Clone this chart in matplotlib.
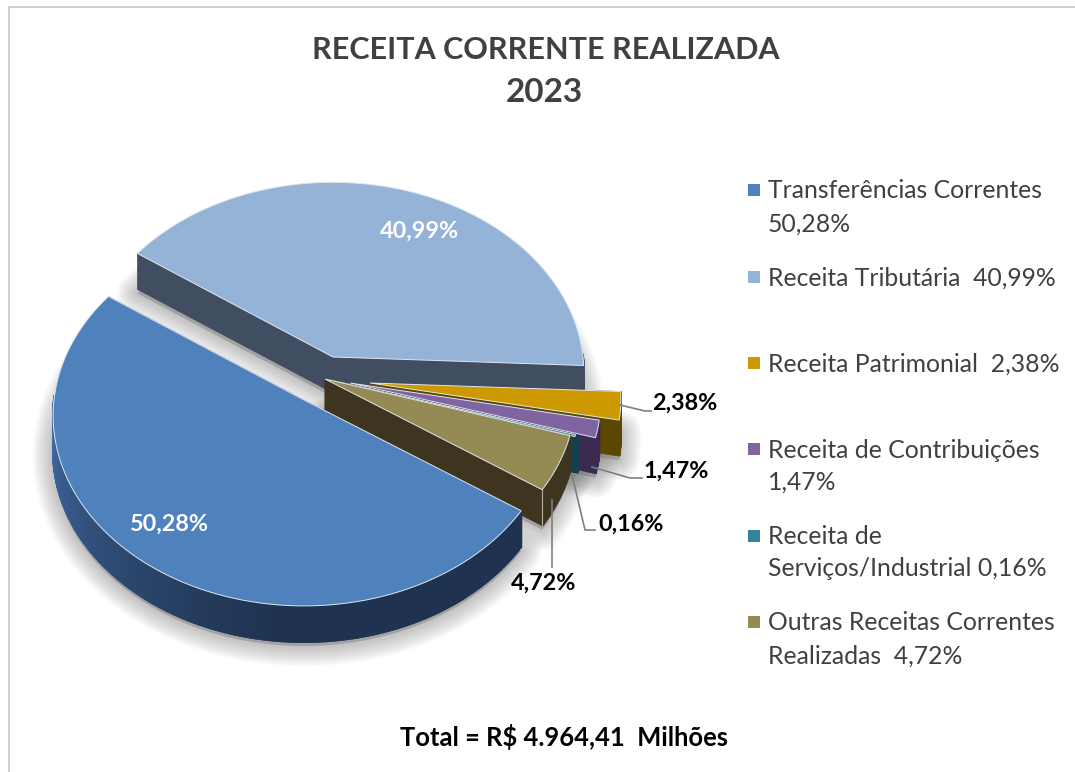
import numpy as np
import matplotlib
matplotlib.use("Agg")
import matplotlib.pyplot as plt
from matplotlib.patches import Polygon, Rectangle

plt.rcParams['font.family'] = ['Lato', 'DejaVu Sans']

categories = ['Transferências Correntes', 'Receita Tributária', 'Receita Patrimonial',
              'Receita de Contribuições', 'Receita de Serviços/Industrial',
              'Outras Receitas Correntes Realizadas']
values = [50.28, 40.99, 2.38, 1.47, 0.16, 4.72]
value_labels = ['50,28%', '40,99%', '2,38%', '1,47%', '0,16%', '4,72%']
legend_lines = [['Transferências Correntes', '50,28%'],
                ['Receita Tributária  40,99%'],
                ['Receita Patrimonial  2,38%'],
                ['Receita de Contribuições', '1,47%'],
                ['Receita de', 'Serviços/Industrial 0,16%'],
                ['Outras Receitas Correntes', 'Realizadas  4,72%']]
total_text = 'Total = R$ 4.964,41  Milhões'

top_colors = ['#4f81bd', '#95b3d7', '#cc9900', '#8064a2', '#31859c', '#948a54']
wall_colors = ['#1f3250', '#414d60', '#5c4700', '#3a2a50', '#13404d', '#3d3520']
# pie apex of every slice on screen (each one is pulled out differently)
apex = [(304, 400), (333, 357), (370, 383), (350, 383), (330, 380), (325, 379)]
legend_y = [[191, 224], [278], [364], [450, 482], [537, 569], [623, 656]]

A = 250
B = 189
P = 0.082
H = 36
START = -34.0


def project(c, r, t, z=0):
    X = r * np.cos(np.radians(t))
    Y = r * np.sin(np.radians(t))
    s = 1 / (1 + P * Y)
    return c[0] + A * X * s, c[1] - B * Y * s + z


def arc(c, t0, t1, z=0):
    n = max(int(abs(t1 - t0)) * 2, 3)
    ts = np.linspace(t0, t1, n)
    x, y = project(c, 1.0, ts, z)
    return np.column_stack([x, y])


def top_poly(c, t0, t1, z=0):
    return np.vstack([[c[0], c[1] + z], arc(c, t0, t1, z)])


def mix(c1, c2, f):
    a = np.array(matplotlib.colors.to_rgb(c1))
    b = np.array(matplotlib.colors.to_rgb(c2))
    return a + (b - a) * f


fig = plt.figure(figsize=(10.75, 7.72), dpi=100)
ax = fig.add_axes([0, 0, 1, 1])
ax.set_xlim(0, 1075)
ax.set_ylim(772, 0)
ax.axis('off')

# chart border
ax.plot([9, 9, 1075], [772, 6.5, 6.5], color='#c4c4c4', lw=1.1)

# slice angles (clockwise from START)
angles = []
t = START
for v in values:
    angles.append((t, t - v * 3.6))
    t = t - v * 3.6

draw_order = [1, 2, 3, 4, 5, 0]

# soft shadows first
for i in draw_order:
    t0, t1 = angles[i]
    shadow = top_poly(apex[i], t0, t1, H + 4)
    for k in range(14):
        ax.add_patch(Polygon(shadow, closed=True, fc='#777777', ec='#777777',
                             lw=2.1 * (14 - k), alpha=0.035, joinstyle='round', zorder=1))

z = 2
for i in draw_order:
    t0, t1 = angles[i]
    c = apex[i]
    # radial walls
    for tt in (t0, t1):
        x, y = project(c, 1.0, tt)
        wall = [(c[0], c[1]), (x, y), (x, y + H), (c[0], c[1] + H)]
        ax.add_patch(Polygon(wall, closed=True, fc=wall_colors[i], ec=wall_colors[i], lw=0.5, zorder=z))
        z += 1
    # round wall, cut in small pieces so the blue one can shade; back part stays hidden
    pts = arc(c, t0, t1)
    low = arc(c, t0, t1, H)
    tts = np.linspace(t0, t1, len(pts))
    for j in range(len(pts) - 1):
        if np.sin(np.radians(tts[j])) > 0.02:
            continue
        col = wall_colors[i]
        if i == 0:
            f = np.clip((t0 - tts[j] - 60) / 95, 0, 1)
            col = mix('#1f3250', '#4473ad', f ** 1.2)
        q = [pts[j], pts[j + 1], low[j + 1], low[j]]
        ax.add_patch(Polygon(q, closed=True, fc=col, ec=col, lw=5 if i == 4 else 1.5, zorder=z))
    z += 1
    # pale seam on the olive corner
    if i == 5:
        x, y = project(c, 1.0, t1)
        ax.plot([x, x], [y, y + H], color='#b5b09a', lw=0.8, zorder=z)
        z += 1
    ax.add_patch(Polygon(top_poly(c, t0, t1), closed=True, fc=top_colors[i], ec='#dfe6ee',
                         lw=0.7, zorder=z))
    z += 1

# labels inside
ax.text(169, 524, value_labels[0], color='white', fontsize=16.8, fontweight='bold',
        ha='center', va='center', zorder=z)
ax.text(419, 231, value_labels[1], color='white', fontsize=16.8, fontweight='bold',
        ha='center', va='center', zorder=z)

# labels outside with leader lines
out_idx = [2, 3, 4, 5]
out_pos = [(685, 403), (676, 471), (631, 524), (544, 583)]
leaders = [[(620, 405), (645, 411), (651, 411)],
           [(592, 467), (630, 478), (642, 478)],
           [(572, 475), (585, 530), (595, 530)],
           [(552, 500), (552, 567)]]
for i, pos, line in zip(out_idx, out_pos, leaders):
    ax.text(pos[0], pos[1], value_labels[i], color='black', fontsize=16.8, fontweight='bold',
            ha='center', va='center', zorder=z)
    ax.plot([p[0] for p in line], [p[1] for p in line], color='#7f7f7f', lw=1.2, zorder=z)

# legend
for i in range(len(categories)):
    ax.add_patch(Rectangle((748, legend_y[i][0] - 7), 12, 12, fc=top_colors[i], ec='none', zorder=z))
    for line, yy in zip(legend_lines[i], legend_y[i]):
        ax.text(768, yy, line, color='#404040', fontsize=17.8, ha='left', va='center', zorder=z)

ax.text(546, 50, 'RECEITA CORRENTE REALIZADA', color='#404040', fontsize=22, fontweight='bold',
        ha='center', va='center')
ax.text(544, 93, '2023', color='#404040', fontsize=24, fontweight='bold', ha='center', va='center')
ax.text(564, 737, total_text, color='black', fontsize=18.4, fontweight='bold', ha='center', va='center')

fig.savefig('out.png', dpi=100)
